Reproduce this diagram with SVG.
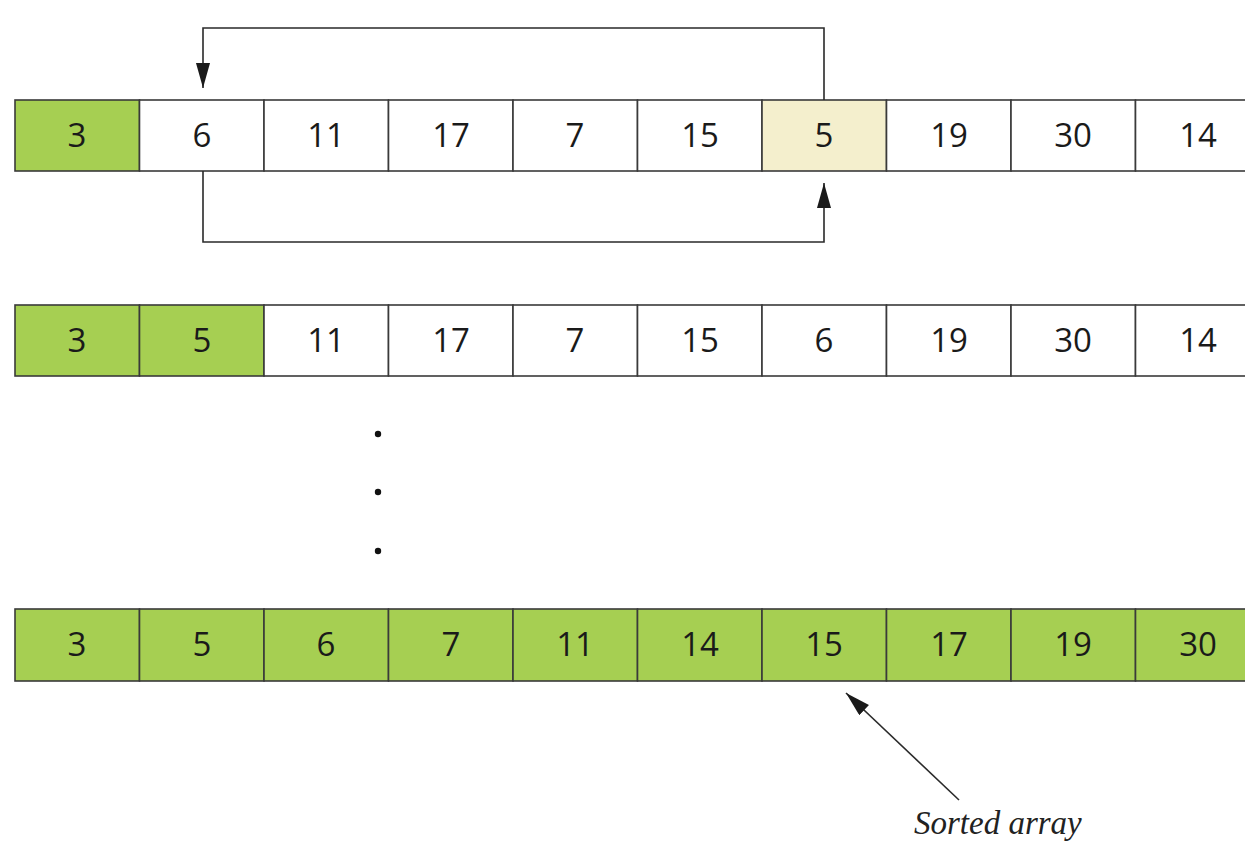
<svg xmlns="http://www.w3.org/2000/svg" width="1245" height="843" viewBox="0 0 1245 843">
  <style>
    .cell { stroke: #3a3a3a; stroke-width: 1.6; }
    .plain { fill: #ffffff; }
    .done { fill: #a6cf52; }
    .min { fill: #f4efcd; }
    .num { font-family: "Open Sans", "Noto Sans", "DejaVu Sans", sans-serif; font-size: 33px; fill: #1a1a1a; text-anchor: middle; }
    .wire { fill: none; stroke: #2a2a2a; stroke-width: 1.6; }
    .label { font-family: "Liberation Serif", "Times New Roman", serif; font-style: italic; font-size: 33px; fill: #222222; }
  </style>
  <defs>
    <marker id="head" markerUnits="userSpaceOnUse" markerWidth="26" markerHeight="16" refX="25" refY="7" orient="auto">
      <path d="M0,0 L25,7 L0,14 Z" fill="#1a1a1a"/>
    </marker>
  </defs>

  <!-- pass 1: minimum (5) is swapped into position 1 -->
  <g id="row1">
    <rect class="cell done" x="15" y="100" width="124.5" height="71"/>
    <rect class="cell plain" x="139.5" y="100" width="124.5" height="71"/>
    <rect class="cell plain" x="264" y="100" width="124.5" height="71"/>
    <rect class="cell plain" x="388.5" y="100" width="124.5" height="71"/>
    <rect class="cell plain" x="513" y="100" width="124.5" height="71"/>
    <rect class="cell plain" x="637.5" y="100" width="124.5" height="71"/>
    <rect class="cell min" x="762" y="100" width="124.5" height="71"/>
    <rect class="cell plain" x="886.5" y="100" width="124.5" height="71"/>
    <rect class="cell plain" x="1011" y="100" width="124.5" height="71"/>
    <rect class="cell plain" x="1135.5" y="100" width="124.5" height="71"/>
    <text class="num" x="77" y="147">3</text>
    <text class="num" x="202" y="147">6</text>
    <text class="num" x="326" y="147">11</text>
    <text class="num" x="451" y="147">17</text>
    <text class="num" x="575" y="147">7</text>
    <text class="num" x="700" y="147">15</text>
    <text class="num" x="824" y="147">5</text>
    <text class="num" x="949" y="147">19</text>
    <text class="num" x="1073" y="147">30</text>
    <text class="num" x="1198" y="147">14</text>
  </g>

  <!-- after the swap -->
  <g id="row2">
    <rect class="cell done" x="15" y="305" width="124.5" height="71"/>
    <rect class="cell done" x="139.5" y="305" width="124.5" height="71"/>
    <rect class="cell plain" x="264" y="305" width="124.5" height="71"/>
    <rect class="cell plain" x="388.5" y="305" width="124.5" height="71"/>
    <rect class="cell plain" x="513" y="305" width="124.5" height="71"/>
    <rect class="cell plain" x="637.5" y="305" width="124.5" height="71"/>
    <rect class="cell plain" x="762" y="305" width="124.5" height="71"/>
    <rect class="cell plain" x="886.5" y="305" width="124.5" height="71"/>
    <rect class="cell plain" x="1011" y="305" width="124.5" height="71"/>
    <rect class="cell plain" x="1135.5" y="305" width="124.5" height="71"/>
    <text class="num" x="77" y="352">3</text>
    <text class="num" x="202" y="352">5</text>
    <text class="num" x="326" y="352">11</text>
    <text class="num" x="451" y="352">17</text>
    <text class="num" x="575" y="352">7</text>
    <text class="num" x="700" y="352">15</text>
    <text class="num" x="824" y="352">6</text>
    <text class="num" x="949" y="352">19</text>
    <text class="num" x="1073" y="352">30</text>
    <text class="num" x="1198" y="352">14</text>
  </g>

  <!-- ellipsis -->
  <g id="ellipsis" fill="#111111">
    <circle cx="378" cy="434" r="3.2"/>
    <circle cx="378" cy="492" r="3.2"/>
    <circle cx="378" cy="551" r="3.2"/>
  </g>

  <!-- final sorted array -->
  <g id="row3">
    <rect class="cell done" x="15" y="609" width="124.5" height="72"/>
    <rect class="cell done" x="139.5" y="609" width="124.5" height="72"/>
    <rect class="cell done" x="264" y="609" width="124.5" height="72"/>
    <rect class="cell done" x="388.5" y="609" width="124.5" height="72"/>
    <rect class="cell done" x="513" y="609" width="124.5" height="72"/>
    <rect class="cell done" x="637.5" y="609" width="124.5" height="72"/>
    <rect class="cell done" x="762" y="609" width="124.5" height="72"/>
    <rect class="cell done" x="886.5" y="609" width="124.5" height="72"/>
    <rect class="cell done" x="1011" y="609" width="124.5" height="72"/>
    <rect class="cell done" x="1135.5" y="609" width="124.5" height="72"/>
    <text class="num" x="77" y="656">3</text>
    <text class="num" x="202" y="656">5</text>
    <text class="num" x="326" y="656">6</text>
    <text class="num" x="451" y="656">7</text>
    <text class="num" x="575" y="656">11</text>
    <text class="num" x="700" y="656">14</text>
    <text class="num" x="824" y="656">15</text>
    <text class="num" x="949" y="656">17</text>
    <text class="num" x="1073" y="656">19</text>
    <text class="num" x="1198" y="656">30</text>
  </g>

  <g id="label">
    <text class="label" x="914" y="834">Sorted array</text>
  </g>

  <g id="connectors">
    <polyline class="wire" points="824,100 824,28 203,28 203,88" marker-end="url(#head)"/>
    <polyline class="wire" points="203,171 203,242 824,242 824,183" marker-end="url(#head)"/>
    <line class="wire" x1="959" y1="800" x2="846" y2="693" marker-end="url(#head)"/>
  </g>
</svg>
